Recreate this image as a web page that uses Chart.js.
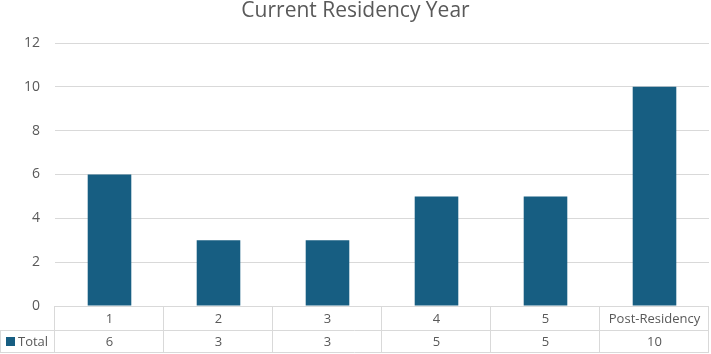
<!DOCTYPE html>
<html>
<head>
<meta charset="utf-8">
<script src="https://cdn.jsdelivr.net/npm/chart.js@4"></script>
<style>
  html, body { margin: 0; padding: 0; background: #fff; }
  #wrap { width: 711px; height: 354px; }
</style>
</head>
<body>
<div id="wrap"><canvas id="chart" width="711" height="354"></canvas></div>
<script>
// Chart values
const chartTitle = 'Current Residency Year';
const categories = ['1', '2', '3', '4', '5', 'Post-Residency'];
const totals = [6, 3, 3, 5, 5, 10];
const seriesName = 'Total';
const yTicks = [0, 2, 4, 6, 8, 10, 12];

const barColor = '#175e82';
const lineColor = '#d9d9d9';
const textColor = '#595959';
const fontFamily = '"Open Sans", "Noto Sans", sans-serif';

// title + Excel-style data table under the plot
const dataTable = {
  id: 'dataTable',
  afterDraw(chart) {
    const { ctx, chartArea, scales } = chart;
    const x = scales.x;
    const top = chartArea.bottom;
    const mid = top + 24;
    const bottom = mid + 22;
    const left = chartArea.left;
    const right = chartArea.right;
    const step = (right - left) / categories.length;

    ctx.save();
    ctx.fillStyle = textColor;
    ctx.font = '21px ' + fontFamily;
    ctx.textAlign = 'center';
    ctx.textBaseline = 'alphabetic';
    ctx.fillText(chartTitle, chart.width / 2, 17);

    ctx.strokeStyle = lineColor;
    ctx.lineWidth = 1;
    ctx.beginPath();
    ctx.moveTo(left, top + 0.5); ctx.lineTo(right, top + 0.5);
    ctx.moveTo(0, mid + 0.5); ctx.lineTo(right, mid + 0.5);
    ctx.moveTo(0, bottom + 0.5); ctx.lineTo(right, bottom + 0.5);
    for (let i = 0; i <= categories.length; i++) {
      const px = Math.round(left + step * i) - 0.5;
      ctx.moveTo(px, top); ctx.lineTo(px, bottom + 1);
    }
    ctx.moveTo(0.5, mid); ctx.lineTo(0.5, bottom + 1);
    ctx.stroke();

    ctx.font = '13px ' + fontFamily;
    ctx.textBaseline = 'middle';
    categories.forEach((c, i) => {
      const cx = x.getPixelForValue(i);
      ctx.fillText(c, cx, (top + mid) / 2 + 1);
      ctx.fillText(String(totals[i]), cx, (mid + bottom) / 2 + 1);
    });

    // legend key
    ctx.fillStyle = barColor;
    ctx.fillRect(6, mid + 7, 9, 9);
    ctx.fillStyle = textColor;
    ctx.textAlign = 'left';
    ctx.fillText(seriesName, 18, (mid + bottom) / 2 + 1);
    ctx.restore();
  }
};

new Chart(document.getElementById('chart'), {
  type: 'bar',
  data: {
    labels: categories,
    datasets: [{
      label: seriesName,
      data: totals,
      backgroundColor: barColor,
      categoryPercentage: 1,
      barPercentage: 0.4
    }]
  },
  options: {
    responsive: false,
    animation: false,
    layout: { padding: { left: 0, right: 2, top: 43, bottom: 40 } },
    plugins: {
      legend: { display: false },
      tooltip: { enabled: false },
      title: { display: false }
    },
    scales: {
      x: {
        ticks: { display: false },
        grid: { display: false },
        border: { display: false }
      },
      y: {
        min: 0,
        max: 12,
        afterBuildTicks(scale) { scale.ticks = yTicks.map(v => ({ value: v })); },
        afterFit(scale) { scale.width = 55; },
        ticks: {
          color: textColor,
          padding: 15,
          font: { family: fontFamily, size: 14 }
        },
        grid: { color: lineColor, drawTicks: false },
        border: { display: false }
      }
    }
  },
  plugins: [dataTable]
});
</script>
</body>
</html>
